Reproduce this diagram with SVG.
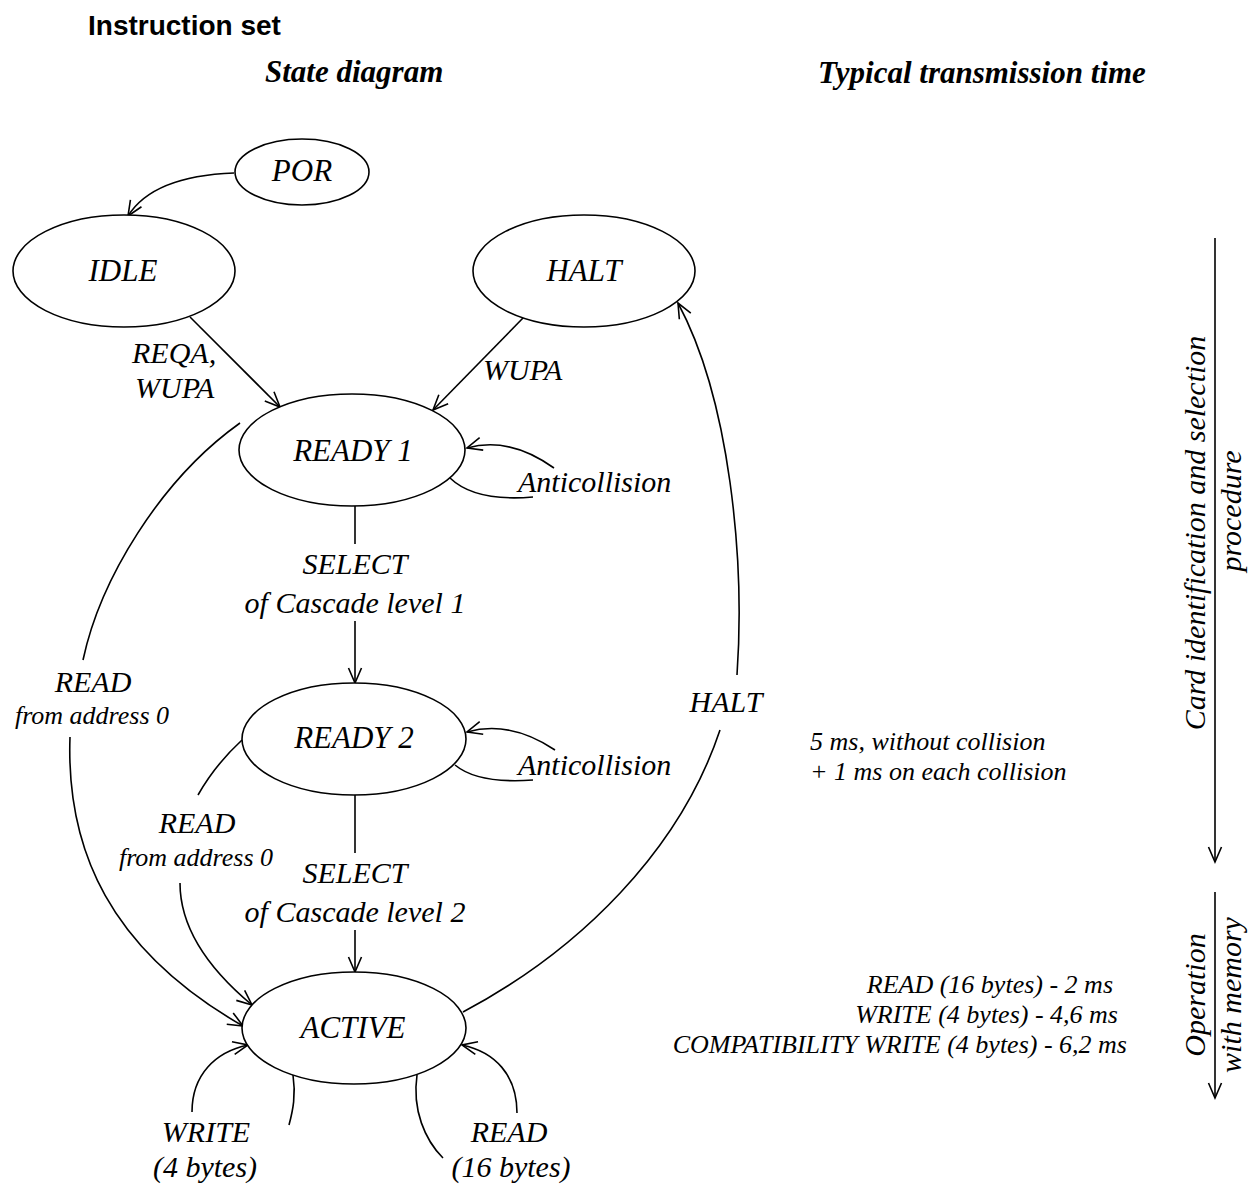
<svg xmlns="http://www.w3.org/2000/svg" width="1254" height="1185" viewBox="0 0 1254 1185">
<style>
.st{fill:#fff;stroke:#000;stroke-width:1.6}
.c{fill:none;stroke:#000;stroke-width:1.6}
.t{font-family:"Liberation Serif","Times New Roman",serif;font-style:italic;fill:#000}
.s31{font-size:31px}
.s30{font-size:30px}
.s26{font-size:26px}
.mid{text-anchor:middle}
.end{text-anchor:end}
.h{font-family:"Liberation Serif","Times New Roman",serif;font-style:italic;font-weight:bold;font-size:31px}
</style>
<defs>
<marker id="arr" viewBox="0 0 18 16" refX="16" refY="8" markerWidth="18" markerHeight="16" markerUnits="userSpaceOnUse" orient="auto">
<path d="M1,1.5 L16,8 L1,14.5" fill="none" stroke="#000" stroke-width="1.6"/>
</marker>
</defs>
<rect width="1254" height="1185" fill="#fff"/>
<text x="88" y="35" font-family="'Liberation Sans',Arial,sans-serif" font-weight="bold" font-size="28">Instruction set</text>
<text x="265" y="82" class="h">State diagram</text>
<text x="818" y="83" class="h">Typical transmission time</text>

<g id="connectors">
<path class="c" d="M234,173 Q153,176 128,216" marker-end="url(#arr)"/>
<path class="c" d="M190,317 L280,407" marker-end="url(#arr)"/>
<path class="c" d="M523,318 L433,410" marker-end="url(#arr)"/>
<path class="c" d="M554,468 Q509,436 467,448" marker-end="url(#arr)"/>
<path class="c" d="M450,478 Q475,502 533,497"/>
<path class="c" d="M355,506 L355,544"/>
<path class="c" d="M355,621 L355,683" marker-end="url(#arr)"/>
<path class="c" d="M555,750 Q510,720 467,732" marker-end="url(#arr)"/>
<path class="c" d="M455,765 Q478,784 533,780"/>
<path class="c" d="M355,795 L355,853"/>
<path class="c" d="M355,930 L355,972" marker-end="url(#arr)"/>
<path class="c" d="M240,423 C160,480 100,580 83,660"/>
<path class="c" d="M70,737 C66,850 110,950 243,1026" marker-end="url(#arr)"/>
<path class="c" d="M242,740 Q215,765 198,795"/>
<path class="c" d="M180,883 C180,930 210,970 252,1005" marker-end="url(#arr)"/>
<path class="c" d="M463,1012 C580,950 680,850 720,730"/>
<path class="c" d="M737,675 C745,560 730,400 678,303" marker-end="url(#arr)"/>
<path class="c" d="M192,1112 C192,1075 215,1052 248,1045" marker-end="url(#arr)"/>
<path class="c" d="M293,1075 C296,1095 293,1110 289,1125"/>
<path class="c" d="M517,1113 C517,1075 495,1052 462,1045" marker-end="url(#arr)"/>
<path class="c" d="M417,1075 C412,1110 425,1140 443,1158"/>
<path class="c" d="M1215,238 L1215,862" marker-end="url(#arr)"/>
<path class="c" d="M1215,892 L1215,1098" marker-end="url(#arr)"/>
</g>

<g id="por"><ellipse class="st" cx="302" cy="172" rx="67" ry="33"/><text x="302" y="181" class="t s31 mid">POR</text></g>
<g id="idle"><ellipse class="st" cx="124" cy="271" rx="111" ry="56"/><text x="123" y="281" class="t s31 mid">IDLE</text></g>
<g id="halt"><ellipse class="st" cx="584" cy="271" rx="111" ry="56"/><text x="584" y="281" class="t s31 mid">HALT</text></g>
<g id="ready1"><ellipse class="st" cx="352" cy="450" rx="113" ry="56"/><text x="353" y="461" class="t s31 mid">READY 1</text></g>
<g id="ready2"><ellipse class="st" cx="354" cy="739" rx="112" ry="56"/><text x="354" y="748" class="t s31 mid">READY 2</text></g>
<g id="active"><ellipse class="st" cx="354" cy="1028" rx="112" ry="56"/><text x="353" y="1038" class="t s31 mid">ACTIVE</text></g>

<g id="labels">
<text x="132" y="363" class="t s30">REQA,</text>
<text x="135" y="398" class="t s30">WUPA</text>
<text x="483" y="380" class="t s30">WUPA</text>
<text x="518" y="492" class="t s30">Anticollision</text>
<text x="518" y="775" class="t s30">Anticollision</text>
<text x="355" y="574" class="t s30 mid">SELECT</text>
<text x="355" y="613" class="t s30 mid">of Cascade level 1</text>
<text x="355" y="883" class="t s30 mid">SELECT</text>
<text x="355" y="922" class="t s30 mid">of Cascade level 2</text>
<text x="93" y="692" class="t s30 mid">READ</text>
<text x="92" y="724" class="t s26 mid">from address 0</text>
<text x="197" y="833" class="t s30 mid">READ</text>
<text x="196" y="866" class="t s26 mid">from address 0</text>
<text x="726" y="712" class="t s30 mid">HALT</text>
<text x="206" y="1142" class="t s30 mid">WRITE</text>
<text x="205" y="1177" class="t s30 mid">(4 bytes)</text>
<text x="509" y="1142" class="t s30 mid">READ</text>
<text x="511" y="1177" class="t s30 mid">(16 bytes)</text>
<text x="810" y="750" class="t s26">5 ms, without collision</text>
<text x="810" y="780" class="t s26">+ 1 ms on each collision</text>
<text x="1113" y="993" class="t s26 end">READ (16 bytes) - 2 ms</text>
<text x="1118" y="1023" class="t s26 end">WRITE (4 bytes) - 4,6 ms</text>
<text x="1127" y="1053" class="t s26 end">COMPATIBILITY WRITE (4 bytes) - 6,2 ms</text>
<text transform="translate(1205,533) rotate(-90)" class="t s30 mid">Card identification and selection</text>
<text transform="translate(1241,511) rotate(-90)" class="t s30 mid">procedure</text>
<text transform="translate(1205,995) rotate(-90)" class="t s30 mid">Operation</text>
<text transform="translate(1241,995) rotate(-90)" class="t s30 mid">with memory</text>
</g>
</svg>
